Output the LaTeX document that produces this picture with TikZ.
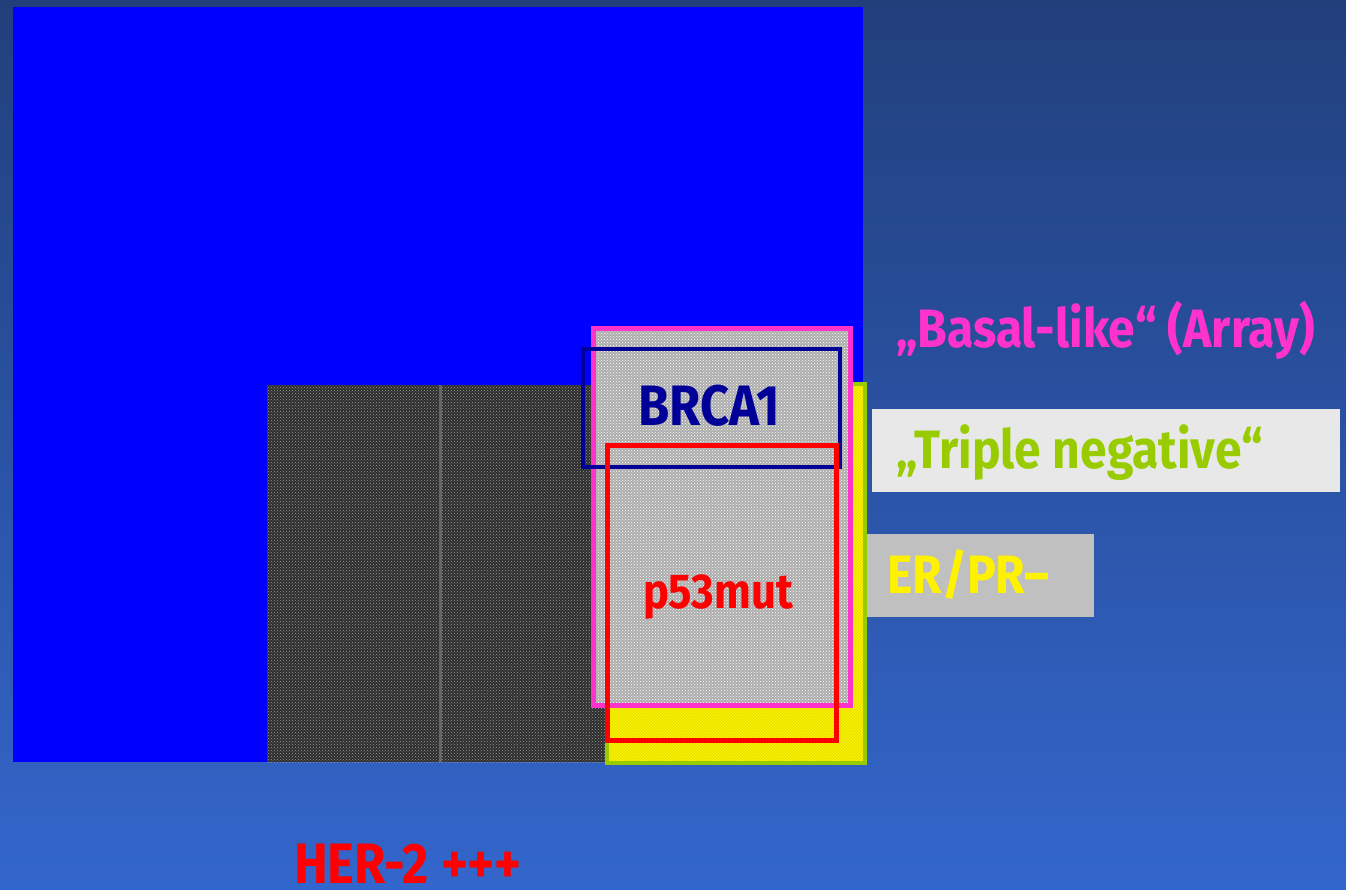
\documentclass[tikz,border=0pt]{standalone}
\usepackage{fontspec}
\setmainfont{Fira Sans}[FakeStretch=0.89]
\usetikzlibrary{patterns}
\definecolor{slidetop}{HTML}{213F7B}
\definecolor{slidebot}{HTML}{3366CC}
\definecolor{herblue}{HTML}{0000FF}
\definecolor{basalpink}{HTML}{FF33CC}
\definecolor{tripgreen}{HTML}{99CC00}
\definecolor{brcanavy}{HTML}{000099}
\definecolor{tnfill}{HTML}{E8E8E8}
\definecolor{erfill}{HTML}{C0C0C0}

\begin{document}
\begin{tikzpicture}[
  x=1pt, y=-1pt,
  herzone/.style={fill=herblue},
  darkzone/.style={
    preaction={fill=black!82},
    pattern=crosshatch dots,
    pattern color=gray!80,
  },
  erzone/.style={
    draw=tripgreen,
    line width=4pt,
    preaction={fill=yellow},
    pattern=north east lines,
    pattern color=yellow!85!black,
  },
  basalzone/.style={
    draw=basalpink,
    line width=5pt,
    preaction={fill=black!32},
    pattern=crosshatch dots,
    pattern color=white,
  },
  brcazone/.style={draw=brcanavy, line width=4pt},
  p53zone/.style={draw=red, line width=5pt},
  lbl/.style={
    inner sep=0pt,
    anchor=base west,
    text depth=0pt,
    font=\bfseries\fontsize{54}{54}\selectfont,
  },
]

% slide background
\shade[top color=slidetop, bottom color=slidebot] (0,0) rectangle (1346,890);
\useasboundingbox (0,0) rectangle (1346,890);

% HER-2 block and its overlap
\fill[herzone] (13,7) rectangle (863,762);
\path[darkzone] (267,385) rectangle (605,762);
\fill[black!60] (439,385) rectangle (442,762);

% nested subgroups
\path[erzone] (607,384) rectangle (865,763);
\path[basalzone] (593.5,328.5) rectangle (850.5,705.5);
\draw[brcazone] (583,349) rectangle (840,467);
\draw[p53zone] (607.5,445.5) rectangle (836.5,740.5);

% labels
\node[lbl, text=brcanavy, font=\bfseries\fontsize{57}{57}\selectfont] (brca) at (638,425) {BRCA1};
\node[lbl, text=red, font=\bfseries\fontsize{49}{49}\selectfont] (p53) at (643,608) {p53mut};
\node[lbl, text=red, font=\bfseries\fontsize{57}{57}\selectfont] (her) at (294,883) {HER-2 +++};

\node[lbl, text=basalpink] (basal) at (896,348) {„Basal-like“ (Array)};

\fill[tnfill] (872,409) rectangle (1340,492);
\node[lbl, text=tripgreen] (triple) at (896,468) {„Triple negative“};

\fill[erfill] (867,534) rectangle (1094,617);
\node[lbl, text=yellow] (erpr) at (887,593) {ER/PR–};

\end{tikzpicture}
\end{document}
